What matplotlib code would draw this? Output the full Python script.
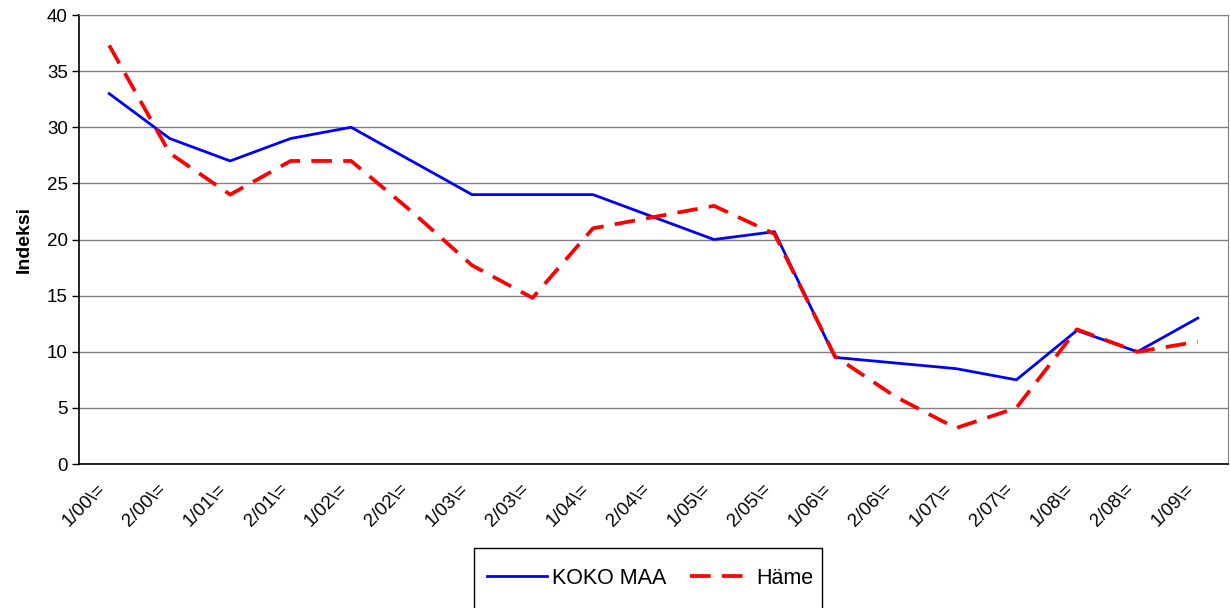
"""Index of KOKO MAA vs. Häme, half-year periods 1/00 .. 1/09."""

import matplotlib

matplotlib.use("Agg")
import matplotlib.pyplot as plt
from matplotlib.patches import Rectangle
from matplotlib.transforms import ScaledTranslation

periods = [
    "1/00\\=", "2/00\\=", "1/01\\=", "2/01\\=", "1/02\\=", "2/02\\=",
    "1/03\\=", "2/03\\=", "1/04\\=", "2/04\\=", "1/05\\=", "2/05\\=",
    "1/06\\=", "2/06\\=", "1/07\\=", "2/07\\=", "1/08\\=", "2/08\\=",
    "1/09\\=",
]
koko_maa = [33.0, 29.0, 27.0, 29.0, 30.0, 27.0, 24.0, 24.0, 24.0, 22.0,
            20.0, 20.7, 9.5, 9.0, 8.5, 7.5, 11.9, 10.0, 13.0]
hame = [37.3, 27.7, 24.0, 27.0, 27.0, 22.5, 17.7, 14.8, 21.0, 22.0,
        23.0, 20.5, 9.6, 6.0, 3.2, 5.0, 12.0, 10.0, 10.9]
y_ticks = [0, 5, 10, 15, 20, 25, 30, 35, 40]

plt.rcParams["font.family"] = ["Liberation Sans", "DejaVu Sans"]

fig = plt.figure(figsize=(12.3, 6.08), dpi=100)
ax = fig.add_axes([0.0642, 0.2368, 0.9342, 0.7385])

x = list(range(len(periods)))
ax.plot(x, koko_maa, color="#0000ff", linewidth=2.0, label="KOKO MAA")
ax.plot(x, hame, color="#ff0000", linewidth=2.7, dashes=(5.5, 3.0),
        label="Häme")

ax.set_xlim(-0.5, len(periods) - 0.5)
ax.set_ylim(0, 40)
ax.set_yticks(y_ticks)
ax.set_yticklabels([str(v) for v in y_ticks], fontsize=13.5)
ax.set_xticks(x)
ax.set_xticklabels(periods, rotation=45, ha="right", va="top", fontsize=13.5)
# Excel puts the rotated labels slightly left of the category centre
shift = ScaledTranslation(-10 / 72, 0, fig.dpi_scale_trans)
for lbl in ax.get_xticklabels():
    lbl.set_transform(lbl.get_transform() + shift)
ax.tick_params(axis="x", length=0, pad=12)
ax.tick_params(axis="y", length=5, width=1, direction="out", pad=3)
ax.set_ylabel("Indeksi", fontsize=14, fontweight="bold", labelpad=10)

ax.yaxis.grid(True, color="#808080", linewidth=1)
ax.set_axisbelow(True)
for side in ("top", "right"):
    ax.spines[side].set_color("#808080")
for side in ("left", "bottom"):
    ax.spines[side].set_color("black")
    ax.spines[side].set_linewidth(1.2)

# legend box runs off the bottom edge of the image, as in the original
fig.patches.append(Rectangle(
    (474 / 1230, -0.03), 348 / 1230, 0.0987 + 0.03,
    transform=fig.transFigure, fill=False, edgecolor="black", linewidth=1,
))
ax.legend(
    loc="center",
    bbox_to_anchor=(650 / 1230, 1 - 578 / 608),
    bbox_transform=fig.transFigure,
    borderaxespad=0,
    ncol=2,
    frameon=False,
    fontsize=15.5,
    handlelength=2.8,
    borderpad=0,
    columnspacing=1.1,
    handletextpad=0.25,
)

fig.savefig("out.png", dpi=100)
